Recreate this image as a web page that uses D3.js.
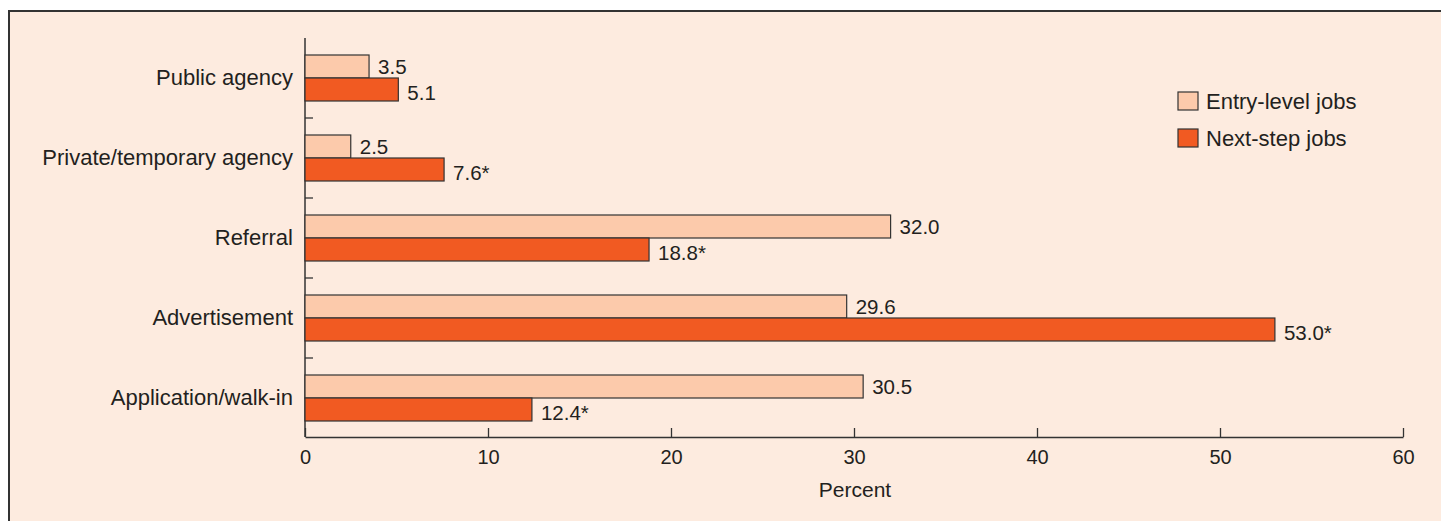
<!DOCTYPE html>
<html><head><meta charset="utf-8">
<script src="https://cdn.jsdelivr.net/npm/d3@7"></script>
<style>html,body{margin:0;padding:0;background:#fff;} svg{display:block;}</style>
</head><body>
<svg id="c" width="1441" height="521"></svg>
<script>
const categories = ["Public agency","Private/temporary agency","Referral","Advertisement","Application/walk-in"];
const seriesNames = ["Entry-level jobs","Next-step jobs"];
const entryLevel = [3.5, 2.5, 32.0, 29.6, 30.5];
const nextStep = [5.1, 7.6, 18.8, 53.0, 12.4];
const significant = [false, true, true, true, true];
const xTicks = [0,10,20,30,40,50,60];
const colors = ["#fccaab","#f15a22"];

const svg = d3.select("#c");
const font = "'Liberation Sans', Arial, sans-serif";
const ink = "#231f20";

// panel
svg.append("rect").attr("x",9).attr("y",11).attr("width",1460).attr("height",540)
  .attr("fill","#fdebdf").attr("stroke","#333").attr("stroke-width",2);

const x = d3.scaleLinear().domain([0,60]).range([305,1403]);
const y = d3.scaleBand().domain(categories).range([38,438]);
const sub = d3.scaleBand().domain([0,1]).range([-23,23]);

const g = svg.append("g");

// x axis
const xa = g.append("g").attr("transform","translate(0,437)")
  .call(d3.axisBottom(x).tickValues(xTicks).tickSize(-9).tickPadding(13).tickSizeOuter(0));
xa.select(".domain").attr("stroke","#333").attr("stroke-width",1.5);
xa.selectAll(".tick line").attr("stroke","#333").attr("stroke-width",1.3);
xa.selectAll("text").attr("font-family",font).attr("font-size",20).attr("fill",ink);

// y axis line + in-between ticks
g.append("line").attr("x1",305).attr("x2",305).attr("y1",38).attr("y2",437)
  .attr("stroke","#333").attr("stroke-width",1.5);
categories.slice(1).forEach(c=>{
  g.append("line").attr("x1",305).attr("x2",313).attr("y1",y(c)).attr("y2",y(c))
   .attr("stroke","#333").attr("stroke-width",1.3);
});

// category labels
g.selectAll(".cat").data(categories).join("text")
  .attr("x",293).attr("y",d=>y(d)+y.bandwidth()/2 - 1).attr("dy","0.35em")
  .attr("text-anchor","end").attr("font-family",font).attr("font-size",22).attr("fill",ink)
  .text(d=>d);

// bars
const series = [entryLevel, nextStep];
series.forEach((vals,si)=>{
  const by = (i)=> y(categories[i]) + y.bandwidth()/2 + sub(si);
  g.selectAll(".b"+si).data(vals).join("rect")
    .attr("x",x(0)).attr("y",(d,i)=>by(i)).attr("width",d=>x(d)-x(0)).attr("height",sub.bandwidth())
    .attr("fill",colors[si]).attr("stroke","#333").attr("stroke-width",1.2);
  g.selectAll(".l"+si).data(vals).join("text")
    .attr("x",d=>x(d)+9).attr("y",(d,i)=>by(i)+sub.bandwidth()/2+(si===1?3:0)).attr("dy","0.35em")
    .attr("font-family",font).attr("font-size",20.5).attr("fill",ink)
    .text((d,i)=>d.toFixed(1)+(si===1&&significant[i]?"*":""));
});

// x label
g.append("text").attr("x",855).attr("y",497).attr("text-anchor","middle")
  .attr("font-family",font).attr("font-size",21).attr("fill",ink).text("Percent");

// legend
seriesNames.forEach((n,i)=>{
  const ly = 92 + i*37;
  g.append("rect").attr("x",1178).attr("y",ly).attr("width",20).attr("height",18)
    .attr("fill",colors[i]).attr("stroke","#333").attr("stroke-width",1.2);
  g.append("text").attr("x",1206).attr("y",ly+9).attr("dy","0.35em")
    .attr("font-family",font).attr("font-size",22).attr("fill",ink).text(n);
});
</script>
</body></html>
